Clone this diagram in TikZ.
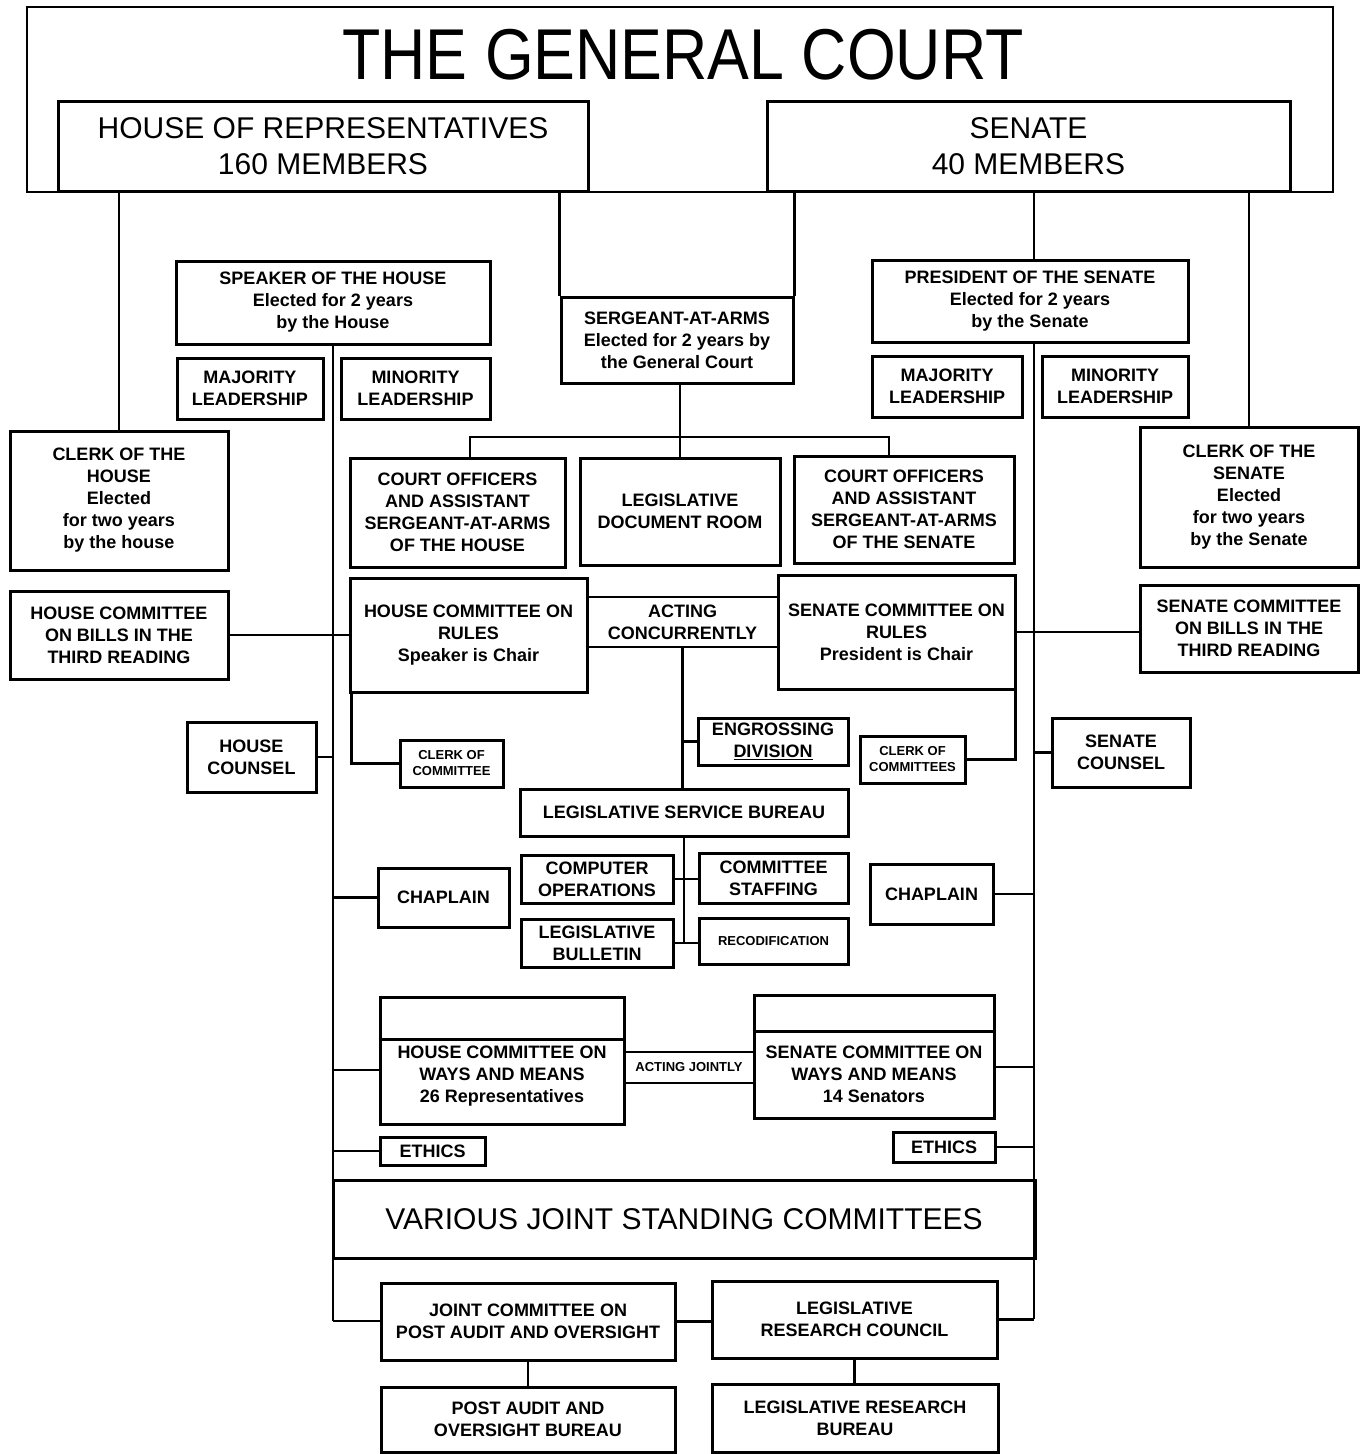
\documentclass[tikz,border=0pt]{standalone}
\usepackage{fontspec}
\setmainfont{Liberation Sans}
\newfontfamily\titlefont{Liberation Sans}[FakeStretch=0.87]
\tikzset{
  bx/.style={draw, line width=3pt, inner sep=0pt, align=center, font=\bfseries\fontsize{18}{22}\selectfont},
  sbx/.style={bx, font=\bfseries\fontsize{13}{16}\selectfont},
  bigbx/.style={bx, font=\fontsize{30}{36}\selectfont},
  outer/.style={draw, line width=2pt, inner sep=0pt},
  txt/.style={inner sep=0pt, align=center, font=\bfseries\fontsize{18}{22}\selectfont},
  stxt/.style={inner sep=0pt, align=center, font=\bfseries\fontsize{13}{16}\selectfont},
  conn/.style={line width=2.2pt},
}
\newcommand{\rbox}[7][bx]{%
  \pgfmathsetmacro\rbcx{(#3+#4)/2}\pgfmathsetmacro\rbcy{(#5+#6)/2}%
  \pgfmathsetmacro\rbw{#4-#3}\pgfmathsetmacro\rbh{#6-#5}%
  \node[#1, minimum width=\rbw pt, minimum height=\rbh pt] (#2) at (\rbcx,\rbcy) {#7};}
\begin{document}
\begin{tikzpicture}[x=1pt,y=-1pt]
\useasboundingbox (0,0) rectangle (1360,1454);
\fill[white] (0,0) rectangle (1360,1454);

% top
\rbox[outer]{court}{27}{1333}{7}{192}{}
\node[inner sep=0pt, font=\titlefont\fontsize{72}{72}\selectfont] (title) at (683,55) {THE GENERAL COURT};
\rbox[bigbx]{house}{58}{588}{101}{191}{HOUSE OF REPRESENTATIVES\\160 MEMBERS}
\rbox[bigbx]{senate}{767}{1290}{101}{191}{SENATE\\40 MEMBERS}

% officers
\rbox{speaker}{176}{490}{261}{344}{SPEAKER OF THE HOUSE\\Elected for 2 years\\by the House}
\rbox{hmaj}{177}{323}{358}{419}{MAJORITY\\LEADERSHIP}
\rbox{hmin}{341}{490}{358}{419}{MINORITY\\LEADERSHIP}
\rbox{sergeant}{561}{793}{297}{383}{SERGEANT-AT-ARMS\\Elected for 2 years by\\the General Court}
\rbox{president}{872}{1188}{260}{342}{PRESIDENT OF THE SENATE\\Elected for 2 years\\by the Senate}
\rbox{smaj}{872}{1022}{356}{417}{MAJORITY\\LEADERSHIP}
\rbox{smin}{1042}{1188}{356}{417}{MINORITY\\LEADERSHIP}
\rbox{hclerk}{10}{228}{431}{570}{CLERK OF THE\\HOUSE\\Elected\\for two years\\by the house}
\rbox{sclerk}{1140}{1358}{427}{567}{CLERK OF THE\\SENATE\\Elected\\for two years\\by the Senate}
\rbox{hofficers}{350}{565}{458}{567}{COURT OFFICERS\\AND ASSISTANT\\SERGEANT-AT-ARMS\\OF THE HOUSE}
\rbox{docroom}{580}{780}{458}{565}{LEGISLATIVE\\DOCUMENT ROOM}
\rbox{sofficers}{794}{1014}{456}{563}{COURT OFFICERS\\AND ASSISTANT\\SERGEANT-AT-ARMS\\OF THE SENATE}

% rules row
\rbox{hbills}{10}{228}{591}{679}{HOUSE COMMITTEE\\ON BILLS IN THE\\THIRD READING}
\rbox{hrules}{350}{587}{578}{692}{HOUSE COMMITTEE ON\\RULES\\Speaker is Chair}
\rbox{srules}{778}{1015}{575}{689}{SENATE COMMITTEE ON\\RULES\\President is Chair}
\rbox{sbills}{1140}{1358}{585}{672}{SENATE COMMITTEE\\ON BILLS IN THE\\THIRD READING}
\node[txt, minimum width=191pt, minimum height=50pt] (acting) at (682.5,622) {ACTING\\CONCURRENTLY};

\rbox{hcounsel}{187}{316}{722}{792}{HOUSE\\COUNSEL}
\rbox[sbx]{hcclerk}{400}{503}{740}{787}{CLERK OF\\COMMITTEE}
\rbox{engross}{698}{848}{718}{765}{ENGROSSING\\\underline{DIVISION}}
\rbox[sbx]{scclerk}{860}{965}{736}{783}{CLERK OF\\COMMITTEES}
\rbox{scounsel}{1052}{1190}{718}{787}{SENATE\\COUNSEL}
\rbox{lsb}{520}{848}{789}{836}{LEGISLATIVE SERVICE BUREAU}
\rbox{hchaplain}{378}{509}{868}{927}{CHAPLAIN}
\rbox{compops}{521}{673}{855}{903}{COMPUTER\\OPERATIONS}
\rbox{cstaff}{699}{848}{853}{903}{COMMITTEE\\STAFFING}
\rbox{schaplain}{870}{993}{864}{924}{CHAPLAIN}
\rbox{bulletin}{521}{673}{919}{967}{LEGISLATIVE\\BULLETIN}
\rbox[sbx]{recod}{699}{848}{918}{964}{RECODIFICATION}

% ways and means
\rbox{hwm}{380}{624}{997}{1124}{}
\draw[line width=3pt] ([yshift=-44pt]hwm.north west) -- ([yshift=-44pt]hwm.north east);
\node[txt] (hwmt) at (502,1076) {HOUSE COMMITTEE ON\\WAYS AND MEANS\\26 Representatives};
\rbox{swm}{754}{994}{995}{1118}{}
\draw[line width=3pt] ([yshift=-38pt]swm.north west) -- ([yshift=-38pt]swm.north east);
\node[txt] (swmt) at (874,1074) {SENATE COMMITTEE ON\\WAYS AND MEANS\\14 Senators};
\node[stxt, minimum width=130pt, minimum height=31pt] (ajoint) at (689,1067.5) {ACTING JOINTLY};
\rbox{hethics}{380}{485}{1137}{1165}{ETHICS}
\rbox{sethics}{893}{995}{1132}{1162}{ETHICS}

\rbox[bigbx]{joint}{333}{1035}{1180}{1258}{VARIOUS JOINT STANDING COMMITTEES}
\rbox{jcpao}{381}{675}{1283}{1360}{JOINT COMMITTEE ON\\POST AUDIT AND OVERSIGHT}
\rbox{lrc}{712}{997}{1281}{1358}{LEGISLATIVE\\RESEARCH COUNCIL}
\rbox{pao}{381}{675}{1387}{1452}{POST AUDIT AND\\OVERSIGHT BUREAU}
\rbox{lrb}{712}{998}{1384}{1452}{LEGISLATIVE RESEARCH\\BUREAU}

% spines
\coordinate (hend) at (333,1321);
\coordinate (send) at (1034,1319);
\coordinate (hbar) at (470,437);
\coordinate (sbar) at (889,437);

% connectors
\begin{scope}[conn]
\draw (hclerk.north |- house.south) -- (hclerk.north);
\draw (sergeant.north west |- house.south) -- (sergeant.north west);
\draw (sergeant.north east |- senate.south) -- (sergeant.north east);
\draw (send |- senate.south) -- (send |- president.north);
\draw (sclerk.north |- senate.south) -- (sclerk.north);
\draw (hend |- speaker.south) -- (hend);
\draw (send |- president.south) -- (send);
\draw (docroom.north |- sergeant.south) -- (docroom.north);
\draw (hofficers.north -| hbar) -- (hbar) -- (sbar) -- (sbar |- sofficers.north);
\draw (hbills.east) -- (hbills.east -| hrules.west);
\draw (srules.east) -- (srules.east -| sbills.west);
\draw (hrules.east |- acting.north) -- (srules.west |- acting.north);
\draw (hrules.east |- acting.south) -- (srules.west |- acting.south);
\draw (acting.south) -- (acting.south |- lsb.north);
\draw (acting.south |- engross.west) -- (engross.west);
\draw ([xshift=3pt]hrules.south west) |- (hcclerk.west);
\draw (scclerk.east) -| ([xshift=-1pt]srules.south east);
\draw (hcounsel.east) -- (hcounsel.east -| hend);
\draw (scounsel.west -| send) -- (scounsel.west);
\draw (hchaplain.west -| hend) -- (hchaplain.west);
\draw (schaplain.east) -- (schaplain.east -| send);
\draw (lsb.south) -- (lsb.south |- bulletin.east);
\draw (compops.east) -- (compops.east -| cstaff.west);
\draw (bulletin.east) -- (bulletin.east -| recod.west);
\draw ([yshift=6pt]hwmt.west -| hend) -- ([yshift=6pt]hwmt.west -| hwm.west);
\draw ([yshift=7pt]swmt.east -| swm.east) -- ([yshift=7pt]swmt.east -| send);
\draw (hwm.east |- ajoint.north) -- (swm.west |- ajoint.north);
\draw (hwm.east |- ajoint.south) -- (swm.west |- ajoint.south);
\draw (hethics.west -| hend) -- (hethics.west);
\draw (sethics.east) -- (sethics.east -| send);
\draw (hend) -- (hend -| jcpao.west);
\draw (jcpao.east) -- (jcpao.east -| lrc.west);
\draw (lrc.east) -- (lrc.east -| send);
\draw (jcpao.south) -- (pao.north);
\draw (lrc.south) -- (lrc.south |- lrb.north);
\end{scope}
\end{tikzpicture}
\end{document}
